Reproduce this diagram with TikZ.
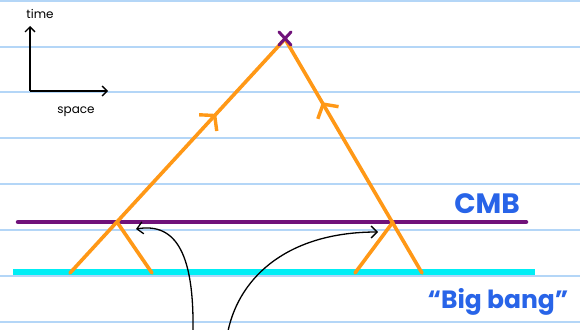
\documentclass[tikz,border=0pt]{standalone}
\usepackage{fontspec}
\setmainfont{Poppins}
\usetikzlibrary{
	arrows.meta,
	calc,
	decorations.markings
}
\definecolor{ruleblue}{RGB}{180,214,247}
\definecolor{wlorange}{RGB}{255,152,22}
\definecolor{cmbpurple}{RGB}{112,18,122}
\definecolor{bbcyan}{RGB}{0,238,245}
\definecolor{inkblue}{RGB}{40,100,232}

\begin{document}
\begin{tikzpicture}[
			x=1pt,y=-1pt,
			rule/.style={ruleblue,line width=1.8pt},
			worldline/.style={
				wlorange,
				line width=3.6pt,
				line cap=round,
				line join=round
			},
			upmark/.style={
				postaction={decorate,decoration={markings,
					mark=at position #1 with {\arrow[wlorange]{Straight Barb[length=10pt,width=24pt,line width=3.4pt]}}}}
			},
			pointer/.style={-{Straight Barb[length=6pt,width=12pt]},line width=1.3pt,black},
			axis/.style={-{Straight Barb[length=5pt,width=10pt]},line width=1.4pt,black},
			hand/.style={inkblue,font=\bfseries\fontsize{28}{30}\selectfont},
			small/.style={font=\fontsize{12}{13}\selectfont,inner sep=0pt}
			]
			
			% paper
			\useasboundingbox (0,0) rectangle (580,329);
			\fill[white] (0,0) rectangle (580,329);
			\foreach \y in {1,47,92,138,184,230,276,322}
				\draw[rule] (0,\y) -- (580,\y);
			
			% points
			\coordinate (apex) at (285,39);
			\coordinate (cmbL) at (117,222);
			\coordinate (cmbR) at (393,222);
			\coordinate (bbLL) at (70,273);
			\coordinate (bbLR) at (152,273);
			\coordinate (bbRL) at (355,273);
			\coordinate (bbRR) at (422,273);
			
			% surfaces
			\draw[bbcyan,line width=5.5pt] (13,272) -- (535,272);
			\draw[cmbpurple,line width=4.5pt,line cap=round] (18,222) -- (526,222);
			
			% light rays
			\draw[worldline,upmark=0.68] (bbLL) -- (apex);
			\draw[worldline,upmark=0.73] (bbRR) -- (apex);
			\draw[worldline] (cmbL) -- (bbLR);
			\draw[worldline] (cmbR) -- (bbRL);
			
			% observer
			\draw[cmbpurple,line width=3pt,line cap=round]
				($(apex)+(-6,-7)$) -- ($(apex)+(6,6)$)
				($(apex)+(6,-7)$) -- ($(apex)+(-6,6)$);
			
			% axes
			\coordinate (orig) at (30,91);
			\coordinate (tend) at (30,26);
			\coordinate (send) at (108,91);
			\draw[axis] (orig) -- (tend);
			\draw[axis] (orig) -- (send);
			\node[small] (tlab) at (40,14) {time};
			\node[small] (slab) at (76,112) {space};
			
			% labels
			\node[hand] (cmb) at (487,204) {CMB};
			\node[hand,anchor=west,font=\bfseries\fontsize{25}{27}\selectfont] (bb) at (424,302) {``Big bang''};
			
			% pointers
			\coordinate (footL) at (193,331);
			\coordinate (footR) at (228,331);
			\coordinate (tipL) at (136,229);
			\coordinate (tipR) at (378,232);
			\draw[pointer] (footL) .. controls (194,258) and (178,222) .. (tipL);
			\draw[pointer] (footR) .. controls (240,275) and (290,232) .. (tipR);
			
		\end{tikzpicture}
\end{document}
